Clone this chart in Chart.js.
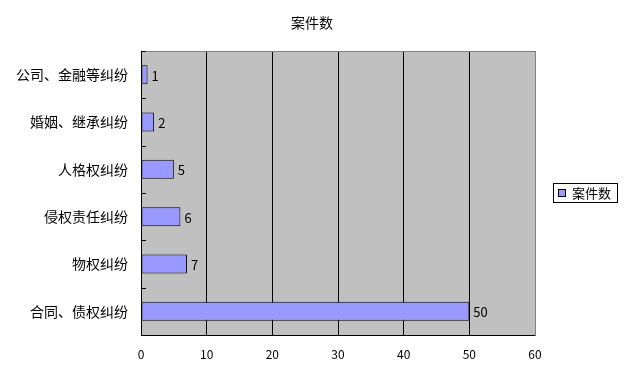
<!DOCTYPE html>
<html><head><meta charset="utf-8">
<script src="https://cdn.jsdelivr.net/npm/chart.js@4/dist/chart.umd.min.js"></script>
<style>html,body{margin:0;padding:0;background:#fff}#wrap{width:628px;height:381px}</style>
</head><body><div id="wrap"><canvas id="c" width="628" height="381"></canvas></div>
<script>
const categories = ['公司、金融等纠纷','婚姻、继承纠纷','人格权纠纷','侵权责任纠纷','物权纠纷','合同、债权纠纷'];
const caseCounts = [1,2,5,6,7,50];
const seriesName = '案件数';
const xTicks = [0,10,20,30,40,50,60];
const FONT = '"Noto Sans CJK SC", "DejaVu Sans", sans-serif';

const bgPlugin = {
  id:'bg',
  beforeDraw(chart){
    const {ctx, chartArea:a} = chart;
    ctx.save(); ctx.fillStyle='#C0C0C0';
    ctx.fillRect(a.left,a.top,a.right-a.left,a.bottom-a.top);
    ctx.restore();
  },
  afterDraw(chart){
    const {ctx, chartArea:a} = chart;
    const y = chart.scales.y;
    ctx.save();
    // title
    ctx.fillStyle='#000'; ctx.font='14px '+FONT; ctx.textAlign='center'; ctx.textBaseline='middle';
    ctx.fillText(seriesName, 312, 23);
    // top/right border
    ctx.strokeStyle='#808080'; ctx.lineWidth=1;
    ctx.beginPath(); ctx.moveTo(a.left,a.top+0.5); ctx.lineTo(a.right+0.5,a.top+0.5); ctx.lineTo(a.right+0.5,a.bottom); ctx.stroke();
    // inward ticks on y axis at category boundaries
    ctx.strokeStyle='#000';
    ctx.beginPath();
    for(let i=0;i<=categories.length;i++){
      let p;
      if(i===0) p=a.top; else if(i===categories.length) p=a.bottom;
      else p=(y.getPixelForValue(i-1)+y.getPixelForValue(i))/2;
      p=Math.round(p)+0.5;
      ctx.moveTo(a.left,p); ctx.lineTo(a.left+5,p);
    }
    ctx.stroke();
    // axis lines
    ctx.beginPath();
    ctx.moveTo(Math.round(a.left)+0.5,a.top); ctx.lineTo(Math.round(a.left)+0.5,a.bottom+0.5);
    ctx.lineTo(a.right+0.5,Math.round(a.bottom)+0.5);
    ctx.stroke();
    // data labels
    ctx.fillStyle='#000'; ctx.font='13px '+FONT; ctx.textBaseline='middle'; ctx.textAlign='left';
    const meta = chart.getDatasetMeta(0);
    meta.data.forEach((bar,i)=>{
      ctx.fillText(String(caseCounts[i]), bar.x+4, bar.y+1);
    });
    // legend
    const lx=553, ly=183, lw=64, lh=19;
    ctx.fillStyle='#fff'; ctx.fillRect(lx,ly,lw,lh);
    ctx.strokeStyle='#000'; ctx.strokeRect(lx+0.5,ly+0.5,lw,lh);
    ctx.fillStyle='#9999FF'; ctx.fillRect(lx+5.5,ly+6.5,7,7);
    ctx.strokeRect(lx+5.5,ly+6.5,7,7);
    ctx.fillStyle='#000'; ctx.font='13px '+FONT; ctx.fillText(seriesName, lx+19, ly+10);
    ctx.restore();
  }
};

new Chart(document.getElementById('c'), {
  type:'bar',
  data:{labels:categories, datasets:[{label:seriesName, data:caseCounts,
    backgroundColor:'#9999FF', borderColor:'#000', borderWidth:1, borderSkipped:false,
    barPercentage:0.4, categoryPercentage:1}]},
  options:{
    indexAxis:'y', responsive:false, animation:false, devicePixelRatio:1,
    layout:{padding:{left:0,right:93,top:51,bottom:0}},
    plugins:{
      legend:{display:false}, tooltip:{enabled:false}, title:{display:false}
    },
    scales:{
      x:{min:0,max:60,
        afterBuildTicks(s){ s.ticks = xTicks.map(v=>({value:v})); },
        afterFit(s){ s.height = 46; },
        grid:{color:'#000', lineWidth:1, drawTicks:false},
        border:{display:false},
        ticks:{color:'#000', padding:12, font:{family:FONT,size:12}}
      },
      y:{
        afterFit(s){ s.width = 141; },
        grid:{display:false, drawTicks:false},
        border:{display:false},
        ticks:{color:'#000', padding:13, font:{family:FONT,size:14}}
      }
    }
  },
  plugins:[bgPlugin]
});
</script></body></html>
